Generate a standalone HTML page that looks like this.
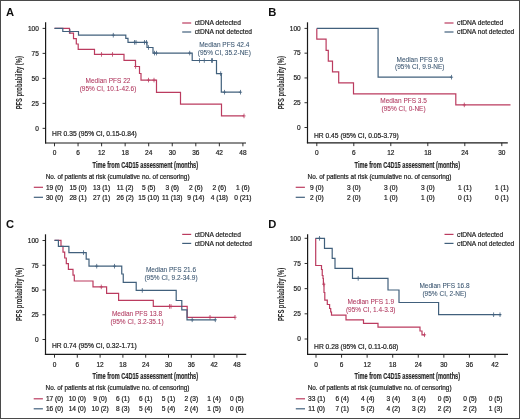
<!DOCTYPE html>
<html><head><meta charset="utf-8"><style>
html,body{margin:0;padding:0;background:#fff;}
body{width:520px;height:419px;overflow:hidden;}
svg{display:block;font-family:"Liberation Sans",sans-serif;will-change:transform;}
</style></head><body>
<svg width="520" height="419" viewBox="0 0 520 419">
<rect x="0" y="0" width="520" height="419" fill="#fff"/>
<text x="6.00" y="16.00" text-anchor="start" fill="#111" font-size="11.2" font-weight="bold" >A</text>
<line x1="45.60" y1="22.30" x2="45.60" y2="143.50" stroke="#1a1a1a" stroke-width="1.2"/>
<line x1="45.00" y1="143.00" x2="246.00" y2="143.00" stroke="#1a1a1a" stroke-width="1.2"/>
<line x1="42.60" y1="128.35" x2="45.60" y2="128.35" stroke="#1a1a1a" stroke-width="0.9"/>
<text x="38.80" y="130.65" text-anchor="end" fill="#222" font-size="6.5" font-weight="normal" stroke="#222" stroke-width="0.2" >0</text>
<line x1="42.60" y1="103.36" x2="45.60" y2="103.36" stroke="#1a1a1a" stroke-width="0.9"/>
<text x="38.80" y="105.66" text-anchor="end" fill="#222" font-size="6.5" font-weight="normal" stroke="#222" stroke-width="0.2" >25</text>
<line x1="42.60" y1="78.38" x2="45.60" y2="78.38" stroke="#1a1a1a" stroke-width="0.9"/>
<text x="38.80" y="80.67" text-anchor="end" fill="#222" font-size="6.5" font-weight="normal" stroke="#222" stroke-width="0.2" >50</text>
<line x1="42.60" y1="53.39" x2="45.60" y2="53.39" stroke="#1a1a1a" stroke-width="0.9"/>
<text x="38.80" y="55.69" text-anchor="end" fill="#222" font-size="6.5" font-weight="normal" stroke="#222" stroke-width="0.2" >75</text>
<line x1="42.60" y1="28.40" x2="45.60" y2="28.40" stroke="#1a1a1a" stroke-width="0.9"/>
<text x="38.80" y="30.70" text-anchor="end" fill="#222" font-size="6.5" font-weight="normal" stroke="#222" stroke-width="0.2" >100</text>
<line x1="54.50" y1="143.00" x2="54.50" y2="146.30" stroke="#1a1a1a" stroke-width="0.9"/>
<text x="54.50" y="155.30" text-anchor="middle" fill="#222" font-size="6.5" font-weight="normal" stroke="#222" stroke-width="0.2" >0</text>
<line x1="78.05" y1="143.00" x2="78.05" y2="146.30" stroke="#1a1a1a" stroke-width="0.9"/>
<text x="78.05" y="155.30" text-anchor="middle" fill="#222" font-size="6.5" font-weight="normal" stroke="#222" stroke-width="0.2" >6</text>
<line x1="101.60" y1="143.00" x2="101.60" y2="146.30" stroke="#1a1a1a" stroke-width="0.9"/>
<text x="101.60" y="155.30" text-anchor="middle" fill="#222" font-size="6.5" font-weight="normal" stroke="#222" stroke-width="0.2" >12</text>
<line x1="125.15" y1="143.00" x2="125.15" y2="146.30" stroke="#1a1a1a" stroke-width="0.9"/>
<text x="125.15" y="155.30" text-anchor="middle" fill="#222" font-size="6.5" font-weight="normal" stroke="#222" stroke-width="0.2" >18</text>
<line x1="148.70" y1="143.00" x2="148.70" y2="146.30" stroke="#1a1a1a" stroke-width="0.9"/>
<text x="148.70" y="155.30" text-anchor="middle" fill="#222" font-size="6.5" font-weight="normal" stroke="#222" stroke-width="0.2" >24</text>
<line x1="172.25" y1="143.00" x2="172.25" y2="146.30" stroke="#1a1a1a" stroke-width="0.9"/>
<text x="172.25" y="155.30" text-anchor="middle" fill="#222" font-size="6.5" font-weight="normal" stroke="#222" stroke-width="0.2" >30</text>
<line x1="195.80" y1="143.00" x2="195.80" y2="146.30" stroke="#1a1a1a" stroke-width="0.9"/>
<text x="195.80" y="155.30" text-anchor="middle" fill="#222" font-size="6.5" font-weight="normal" stroke="#222" stroke-width="0.2" >36</text>
<line x1="219.35" y1="143.00" x2="219.35" y2="146.30" stroke="#1a1a1a" stroke-width="0.9"/>
<text x="219.35" y="155.30" text-anchor="middle" fill="#222" font-size="6.5" font-weight="normal" stroke="#222" stroke-width="0.2" >42</text>
<line x1="242.90" y1="143.00" x2="242.90" y2="146.30" stroke="#1a1a1a" stroke-width="0.9"/>
<text x="242.90" y="155.30" text-anchor="middle" fill="#222" font-size="6.5" font-weight="normal" stroke="#222" stroke-width="0.2" >48</text>
<text transform="translate(21.90,82.75) rotate(-90) scale(0.645,1)" text-anchor="middle" fill="#2a2a2a" font-size="9" font-weight="bold" stroke="#2a2a2a" stroke-width="0.05">PFS probability (%)</text>
<text transform="translate(92.60,167.90) scale(0.625,1)" text-anchor="start" fill="#2a2a2a" font-size="9" font-weight="bold" stroke="#2a2a2a" stroke-width="0.2">Time from C4D15 assessment (months)</text>
<line x1="182.20" y1="23.00" x2="191.20" y2="23.00" stroke="#bb3b5f" stroke-width="1.2"/>
<line x1="182.20" y1="32.00" x2="191.20" y2="32.00" stroke="#41607c" stroke-width="1.2"/>
<text x="194.80" y="25.30" text-anchor="start" fill="#222" font-size="6.65" font-weight="normal" stroke="#222" stroke-width="0.2" >ctDNA detected</text>
<text x="194.80" y="34.30" text-anchor="start" fill="#222" font-size="6.65" font-weight="normal" stroke="#222" stroke-width="0.2" >ctDNA not detected</text>
<text x="52.10" y="135.80" text-anchor="start" fill="#222" font-size="6.7" font-weight="normal" stroke="#222" stroke-width="0.2" >HR 0.35 (95% CI, 0.15-0.84)</text>
<text x="108.00" y="83.00" text-anchor="middle" fill="#b0375e" font-size="6.5" font-weight="normal" stroke="#b0375e" stroke-width="0.06" >Median PFS 22</text>
<text x="108.00" y="90.90" text-anchor="middle" fill="#b0375e" font-size="6.5" font-weight="normal" stroke="#b0375e" stroke-width="0.06" >(95% CI, 10.1-42.6)</text>
<text x="224.30" y="47.00" text-anchor="middle" fill="#37536e" font-size="6.5" font-weight="normal" stroke="#37536e" stroke-width="0.06" >Median PFS 42.4</text>
<text x="224.30" y="54.90" text-anchor="middle" fill="#37536e" font-size="6.5" font-weight="normal" stroke="#37536e" stroke-width="0.06" >(95% CI, 35.2-NE)</text>
<path d="M54.50 28.40H69.50V33.20H73.50V38.70H76.30V44.00H78.20V49.30H94.50V54.40H124.00V60.30H135.50V66.50H139.50V73.50H141.00V80.10H156.50V92.30H180.50V104.20H221.50V115.90H244.00" fill="none" stroke="#bb3b5f" stroke-width="1.2" stroke-linejoin="miter" stroke-linecap="butt"/>
<path d="M101.50 52.10V56.70M99.90 54.40H103.10" stroke="#bb3b5f" stroke-width="0.8" fill="none"/>
<path d="M112.50 52.10V56.70M110.90 54.40H114.10" stroke="#bb3b5f" stroke-width="0.8" fill="none"/>
<path d="M135.60 64.20V68.80M134.00 66.50H137.20" stroke="#bb3b5f" stroke-width="0.8" fill="none"/>
<path d="M148.50 77.80V82.40M146.90 80.10H150.10" stroke="#bb3b5f" stroke-width="0.8" fill="none"/>
<path d="M154.00 77.80V82.40M152.40 80.10H155.60" stroke="#bb3b5f" stroke-width="0.8" fill="none"/>
<path d="M244.00 113.60V118.20M242.40 115.90H245.60" stroke="#bb3b5f" stroke-width="0.8" fill="none"/>
<path d="M54.50 28.40H62.80V31.50H78.50V35.20H125.80V38.30H128.00V42.30H147.00V47.50H153.00V53.10H192.20V60.50H216.50V73.60H221.30V92.20H240.50" fill="none" stroke="#41607c" stroke-width="1.2" stroke-linejoin="miter" stroke-linecap="butt"/>
<path d="M70.00 29.20V33.80M68.40 31.50H71.60" stroke="#41607c" stroke-width="0.8" fill="none"/>
<path d="M113.30 32.90V37.50M111.70 35.20H114.90" stroke="#41607c" stroke-width="0.8" fill="none"/>
<path d="M134.50 40.00V44.60M132.90 42.30H136.10" stroke="#41607c" stroke-width="0.8" fill="none"/>
<path d="M136.00 40.00V44.60M134.40 42.30H137.60" stroke="#41607c" stroke-width="0.8" fill="none"/>
<path d="M144.50 40.00V44.60M142.90 42.30H146.10" stroke="#41607c" stroke-width="0.8" fill="none"/>
<path d="M146.50 40.00V44.60M144.90 42.30H148.10" stroke="#41607c" stroke-width="0.8" fill="none"/>
<path d="M148.50 45.20V49.80M146.90 47.50H150.10" stroke="#41607c" stroke-width="0.8" fill="none"/>
<path d="M154.50 50.80V55.40M152.90 53.10H156.10" stroke="#41607c" stroke-width="0.8" fill="none"/>
<path d="M156.50 50.80V55.40M154.90 53.10H158.10" stroke="#41607c" stroke-width="0.8" fill="none"/>
<path d="M189.70 50.80V55.40M188.10 53.10H191.30" stroke="#41607c" stroke-width="0.8" fill="none"/>
<path d="M199.50 58.20V62.80M197.90 60.50H201.10" stroke="#41607c" stroke-width="0.8" fill="none"/>
<path d="M204.30 58.20V62.80M202.70 60.50H205.90" stroke="#41607c" stroke-width="0.8" fill="none"/>
<path d="M211.50 58.20V62.80M209.90 60.50H213.10" stroke="#41607c" stroke-width="0.8" fill="none"/>
<path d="M212.50 58.20V62.80M210.90 60.50H214.10" stroke="#41607c" stroke-width="0.8" fill="none"/>
<path d="M220.70 71.30V75.90M219.10 73.60H222.30" stroke="#41607c" stroke-width="0.8" fill="none"/>
<path d="M224.50 89.90V94.50M222.90 92.20H226.10" stroke="#41607c" stroke-width="0.8" fill="none"/>
<path d="M240.50 89.90V94.50M238.90 92.20H242.10" stroke="#41607c" stroke-width="0.8" fill="none"/>
<text x="45.70" y="178.50" text-anchor="start" fill="#222" font-size="6.4" font-weight="normal" stroke="#222" stroke-width="0.2" >No. of patients at risk (cumulative no. of censoring)</text>
<line x1="33.80" y1="187.30" x2="43.00" y2="187.30" stroke="#bb3b5f" stroke-width="1.2"/>
<text x="54.50" y="189.90" text-anchor="middle" fill="#222" font-size="6.6" font-weight="normal" stroke="#222" stroke-width="0.2" >19 (0)</text>
<text x="78.05" y="189.90" text-anchor="middle" fill="#222" font-size="6.6" font-weight="normal" stroke="#222" stroke-width="0.2" >15 (0)</text>
<text x="101.60" y="189.90" text-anchor="middle" fill="#222" font-size="6.6" font-weight="normal" stroke="#222" stroke-width="0.2" >13 (1)</text>
<text x="125.15" y="189.90" text-anchor="middle" fill="#222" font-size="6.6" font-weight="normal" stroke="#222" stroke-width="0.2" >11 (2)</text>
<text x="148.70" y="189.90" text-anchor="middle" fill="#222" font-size="6.6" font-weight="normal" stroke="#222" stroke-width="0.2" >5 (5)</text>
<text x="172.25" y="189.90" text-anchor="middle" fill="#222" font-size="6.6" font-weight="normal" stroke="#222" stroke-width="0.2" >3 (6)</text>
<text x="195.80" y="189.90" text-anchor="middle" fill="#222" font-size="6.6" font-weight="normal" stroke="#222" stroke-width="0.2" >2 (6)</text>
<text x="219.35" y="189.90" text-anchor="middle" fill="#222" font-size="6.6" font-weight="normal" stroke="#222" stroke-width="0.2" >2 (6)</text>
<text x="242.90" y="189.90" text-anchor="middle" fill="#222" font-size="6.6" font-weight="normal" stroke="#222" stroke-width="0.2" >1 (6)</text>
<line x1="33.80" y1="197.30" x2="43.00" y2="197.30" stroke="#41607c" stroke-width="1.2"/>
<text x="54.50" y="199.90" text-anchor="middle" fill="#222" font-size="6.6" font-weight="normal" stroke="#222" stroke-width="0.2" >30 (0)</text>
<text x="78.05" y="199.90" text-anchor="middle" fill="#222" font-size="6.6" font-weight="normal" stroke="#222" stroke-width="0.2" >28 (1)</text>
<text x="101.60" y="199.90" text-anchor="middle" fill="#222" font-size="6.6" font-weight="normal" stroke="#222" stroke-width="0.2" >27 (1)</text>
<text x="125.15" y="199.90" text-anchor="middle" fill="#222" font-size="6.6" font-weight="normal" stroke="#222" stroke-width="0.2" >26 (2)</text>
<text x="148.70" y="199.90" text-anchor="middle" fill="#222" font-size="6.6" font-weight="normal" stroke="#222" stroke-width="0.2" >15 (10)</text>
<text x="172.25" y="199.90" text-anchor="middle" fill="#222" font-size="6.6" font-weight="normal" stroke="#222" stroke-width="0.2" >11 (13)</text>
<text x="195.80" y="199.90" text-anchor="middle" fill="#222" font-size="6.6" font-weight="normal" stroke="#222" stroke-width="0.2" >9 (14)</text>
<text x="219.35" y="199.90" text-anchor="middle" fill="#222" font-size="6.6" font-weight="normal" stroke="#222" stroke-width="0.2" >4 (18)</text>
<text x="242.90" y="199.90" text-anchor="middle" fill="#222" font-size="6.6" font-weight="normal" stroke="#222" stroke-width="0.2" >0 (21)</text>
<text x="268.30" y="16.00" text-anchor="start" fill="#111" font-size="11.2" font-weight="bold" >B</text>
<line x1="307.50" y1="22.30" x2="307.50" y2="143.30" stroke="#1a1a1a" stroke-width="1.2"/>
<line x1="306.90" y1="142.80" x2="507.80" y2="142.80" stroke="#1a1a1a" stroke-width="1.2"/>
<line x1="304.50" y1="127.50" x2="307.50" y2="127.50" stroke="#1a1a1a" stroke-width="0.9"/>
<text x="300.70" y="129.80" text-anchor="end" fill="#222" font-size="6.5" font-weight="normal" stroke="#222" stroke-width="0.2" >0</text>
<line x1="304.50" y1="102.72" x2="307.50" y2="102.72" stroke="#1a1a1a" stroke-width="0.9"/>
<text x="300.70" y="105.02" text-anchor="end" fill="#222" font-size="6.5" font-weight="normal" stroke="#222" stroke-width="0.2" >25</text>
<line x1="304.50" y1="77.95" x2="307.50" y2="77.95" stroke="#1a1a1a" stroke-width="0.9"/>
<text x="300.70" y="80.25" text-anchor="end" fill="#222" font-size="6.5" font-weight="normal" stroke="#222" stroke-width="0.2" >50</text>
<line x1="304.50" y1="53.17" x2="307.50" y2="53.17" stroke="#1a1a1a" stroke-width="0.9"/>
<text x="300.70" y="55.47" text-anchor="end" fill="#222" font-size="6.5" font-weight="normal" stroke="#222" stroke-width="0.2" >75</text>
<line x1="304.50" y1="28.40" x2="307.50" y2="28.40" stroke="#1a1a1a" stroke-width="0.9"/>
<text x="300.70" y="30.70" text-anchor="end" fill="#222" font-size="6.5" font-weight="normal" stroke="#222" stroke-width="0.2" >100</text>
<line x1="316.80" y1="142.80" x2="316.80" y2="146.10" stroke="#1a1a1a" stroke-width="0.9"/>
<text x="316.80" y="155.40" text-anchor="middle" fill="#222" font-size="6.5" font-weight="normal" stroke="#222" stroke-width="0.2" >0</text>
<line x1="353.80" y1="142.80" x2="353.80" y2="146.10" stroke="#1a1a1a" stroke-width="0.9"/>
<text x="353.80" y="155.40" text-anchor="middle" fill="#222" font-size="6.5" font-weight="normal" stroke="#222" stroke-width="0.2" >6</text>
<line x1="390.80" y1="142.80" x2="390.80" y2="146.10" stroke="#1a1a1a" stroke-width="0.9"/>
<text x="390.80" y="155.40" text-anchor="middle" fill="#222" font-size="6.5" font-weight="normal" stroke="#222" stroke-width="0.2" >12</text>
<line x1="427.80" y1="142.80" x2="427.80" y2="146.10" stroke="#1a1a1a" stroke-width="0.9"/>
<text x="427.80" y="155.40" text-anchor="middle" fill="#222" font-size="6.5" font-weight="normal" stroke="#222" stroke-width="0.2" >18</text>
<line x1="464.80" y1="142.80" x2="464.80" y2="146.10" stroke="#1a1a1a" stroke-width="0.9"/>
<text x="464.80" y="155.40" text-anchor="middle" fill="#222" font-size="6.5" font-weight="normal" stroke="#222" stroke-width="0.2" >24</text>
<line x1="501.80" y1="142.80" x2="501.80" y2="146.10" stroke="#1a1a1a" stroke-width="0.9"/>
<text x="501.80" y="155.40" text-anchor="middle" fill="#222" font-size="6.5" font-weight="normal" stroke="#222" stroke-width="0.2" >30</text>
<text transform="translate(283.90,82.75) rotate(-90) scale(0.645,1)" text-anchor="middle" fill="#2a2a2a" font-size="9" font-weight="bold" stroke="#2a2a2a" stroke-width="0.05">PFS probability (%)</text>
<text transform="translate(354.60,168.00) scale(0.625,1)" text-anchor="start" fill="#2a2a2a" font-size="9" font-weight="bold" stroke="#2a2a2a" stroke-width="0.2">Time from C4D15 assessment (months)</text>
<line x1="444.50" y1="23.00" x2="453.50" y2="23.00" stroke="#bb3b5f" stroke-width="1.2"/>
<line x1="444.50" y1="32.00" x2="453.50" y2="32.00" stroke="#41607c" stroke-width="1.2"/>
<text x="457.10" y="25.30" text-anchor="start" fill="#222" font-size="6.65" font-weight="normal" stroke="#222" stroke-width="0.2" >ctDNA detected</text>
<text x="457.10" y="34.30" text-anchor="start" fill="#222" font-size="6.65" font-weight="normal" stroke="#222" stroke-width="0.2" >ctDNA not detected</text>
<text x="314.00" y="137.50" text-anchor="start" fill="#222" font-size="6.7" font-weight="normal" stroke="#222" stroke-width="0.2" >HR 0.45 (95% CI, 0.05-3.79)</text>
<text x="403.60" y="103.00" text-anchor="middle" fill="#b0375e" font-size="6.5" font-weight="normal" stroke="#b0375e" stroke-width="0.06" >Median PFS 3.5</text>
<text x="403.60" y="110.90" text-anchor="middle" fill="#b0375e" font-size="6.5" font-weight="normal" stroke="#b0375e" stroke-width="0.06" >(95% CI, 0-NE)</text>
<text x="419.80" y="61.50" text-anchor="middle" fill="#37536e" font-size="6.5" font-weight="normal" stroke="#37536e" stroke-width="0.06" >Median PFS 9.9</text>
<text x="419.80" y="69.40" text-anchor="middle" fill="#37536e" font-size="6.5" font-weight="normal" stroke="#37536e" stroke-width="0.06" >(95% CI, 9.9-NE)</text>
<path d="M316.80 28.40H316.80V39.20H326.10V50.30H328.30V61.20H332.50V71.80H338.70V82.80H353.50V93.90H455.80V104.90H510.50" fill="none" stroke="#bb3b5f" stroke-width="1.2" stroke-linejoin="miter" stroke-linecap="butt"/>
<path d="M464.30 102.60V107.20M462.70 104.90H465.90" stroke="#bb3b5f" stroke-width="0.8" fill="none"/>
<path d="M316.80 28.40H378.10V77.20H451.50" fill="none" stroke="#41607c" stroke-width="1.2" stroke-linejoin="miter" stroke-linecap="butt"/>
<path d="M451.50 74.90V79.50M449.90 77.20H453.10" stroke="#41607c" stroke-width="0.8" fill="none"/>
<text x="307.60" y="178.50" text-anchor="start" fill="#222" font-size="6.4" font-weight="normal" stroke="#222" stroke-width="0.2" >No. of patients at risk (cumulative no. of censoring)</text>
<line x1="295.70" y1="187.30" x2="304.90" y2="187.30" stroke="#bb3b5f" stroke-width="1.2"/>
<text x="316.80" y="189.90" text-anchor="middle" fill="#222" font-size="6.6" font-weight="normal" stroke="#222" stroke-width="0.2" >9 (0)</text>
<text x="353.80" y="189.90" text-anchor="middle" fill="#222" font-size="6.6" font-weight="normal" stroke="#222" stroke-width="0.2" >3 (0)</text>
<text x="390.80" y="189.90" text-anchor="middle" fill="#222" font-size="6.6" font-weight="normal" stroke="#222" stroke-width="0.2" >3 (0)</text>
<text x="427.80" y="189.90" text-anchor="middle" fill="#222" font-size="6.6" font-weight="normal" stroke="#222" stroke-width="0.2" >3 (0)</text>
<text x="464.80" y="189.90" text-anchor="middle" fill="#222" font-size="6.6" font-weight="normal" stroke="#222" stroke-width="0.2" >1 (1)</text>
<text x="501.80" y="189.90" text-anchor="middle" fill="#222" font-size="6.6" font-weight="normal" stroke="#222" stroke-width="0.2" >1 (1)</text>
<line x1="295.70" y1="197.30" x2="304.90" y2="197.30" stroke="#41607c" stroke-width="1.2"/>
<text x="316.80" y="199.90" text-anchor="middle" fill="#222" font-size="6.6" font-weight="normal" stroke="#222" stroke-width="0.2" >2 (0)</text>
<text x="353.80" y="199.90" text-anchor="middle" fill="#222" font-size="6.6" font-weight="normal" stroke="#222" stroke-width="0.2" >2 (0)</text>
<text x="390.80" y="199.90" text-anchor="middle" fill="#222" font-size="6.6" font-weight="normal" stroke="#222" stroke-width="0.2" >1 (0)</text>
<text x="427.80" y="199.90" text-anchor="middle" fill="#222" font-size="6.6" font-weight="normal" stroke="#222" stroke-width="0.2" >1 (0)</text>
<text x="464.80" y="199.90" text-anchor="middle" fill="#222" font-size="6.6" font-weight="normal" stroke="#222" stroke-width="0.2" >0 (1)</text>
<text x="501.80" y="199.90" text-anchor="middle" fill="#222" font-size="6.6" font-weight="normal" stroke="#222" stroke-width="0.2" >0 (1)</text>
<text x="6.00" y="227.50" text-anchor="start" fill="#111" font-size="11.2" font-weight="bold" >C</text>
<line x1="45.50" y1="234.30" x2="45.50" y2="354.90" stroke="#1a1a1a" stroke-width="1.2"/>
<line x1="44.90" y1="354.40" x2="246.20" y2="354.40" stroke="#1a1a1a" stroke-width="1.2"/>
<line x1="42.50" y1="339.50" x2="45.50" y2="339.50" stroke="#1a1a1a" stroke-width="0.9"/>
<text x="38.70" y="341.80" text-anchor="end" fill="#222" font-size="6.5" font-weight="normal" stroke="#222" stroke-width="0.2" >0</text>
<line x1="42.50" y1="314.75" x2="45.50" y2="314.75" stroke="#1a1a1a" stroke-width="0.9"/>
<text x="38.70" y="317.05" text-anchor="end" fill="#222" font-size="6.5" font-weight="normal" stroke="#222" stroke-width="0.2" >25</text>
<line x1="42.50" y1="290.00" x2="45.50" y2="290.00" stroke="#1a1a1a" stroke-width="0.9"/>
<text x="38.70" y="292.30" text-anchor="end" fill="#222" font-size="6.5" font-weight="normal" stroke="#222" stroke-width="0.2" >50</text>
<line x1="42.50" y1="265.25" x2="45.50" y2="265.25" stroke="#1a1a1a" stroke-width="0.9"/>
<text x="38.70" y="267.55" text-anchor="end" fill="#222" font-size="6.5" font-weight="normal" stroke="#222" stroke-width="0.2" >75</text>
<line x1="42.50" y1="240.50" x2="45.50" y2="240.50" stroke="#1a1a1a" stroke-width="0.9"/>
<text x="38.70" y="242.80" text-anchor="end" fill="#222" font-size="6.5" font-weight="normal" stroke="#222" stroke-width="0.2" >100</text>
<line x1="54.50" y1="354.40" x2="54.50" y2="357.70" stroke="#1a1a1a" stroke-width="0.9"/>
<text x="54.50" y="366.60" text-anchor="middle" fill="#222" font-size="6.5" font-weight="normal" stroke="#222" stroke-width="0.2" >0</text>
<line x1="77.30" y1="354.40" x2="77.30" y2="357.70" stroke="#1a1a1a" stroke-width="0.9"/>
<text x="77.30" y="366.60" text-anchor="middle" fill="#222" font-size="6.5" font-weight="normal" stroke="#222" stroke-width="0.2" >6</text>
<line x1="100.10" y1="354.40" x2="100.10" y2="357.70" stroke="#1a1a1a" stroke-width="0.9"/>
<text x="100.10" y="366.60" text-anchor="middle" fill="#222" font-size="6.5" font-weight="normal" stroke="#222" stroke-width="0.2" >12</text>
<line x1="122.90" y1="354.40" x2="122.90" y2="357.70" stroke="#1a1a1a" stroke-width="0.9"/>
<text x="122.90" y="366.60" text-anchor="middle" fill="#222" font-size="6.5" font-weight="normal" stroke="#222" stroke-width="0.2" >18</text>
<line x1="145.70" y1="354.40" x2="145.70" y2="357.70" stroke="#1a1a1a" stroke-width="0.9"/>
<text x="145.70" y="366.60" text-anchor="middle" fill="#222" font-size="6.5" font-weight="normal" stroke="#222" stroke-width="0.2" >24</text>
<line x1="168.50" y1="354.40" x2="168.50" y2="357.70" stroke="#1a1a1a" stroke-width="0.9"/>
<text x="168.50" y="366.60" text-anchor="middle" fill="#222" font-size="6.5" font-weight="normal" stroke="#222" stroke-width="0.2" >30</text>
<line x1="191.30" y1="354.40" x2="191.30" y2="357.70" stroke="#1a1a1a" stroke-width="0.9"/>
<text x="191.30" y="366.60" text-anchor="middle" fill="#222" font-size="6.5" font-weight="normal" stroke="#222" stroke-width="0.2" >36</text>
<line x1="214.10" y1="354.40" x2="214.10" y2="357.70" stroke="#1a1a1a" stroke-width="0.9"/>
<text x="214.10" y="366.60" text-anchor="middle" fill="#222" font-size="6.5" font-weight="normal" stroke="#222" stroke-width="0.2" >42</text>
<line x1="236.90" y1="354.40" x2="236.90" y2="357.70" stroke="#1a1a1a" stroke-width="0.9"/>
<text x="236.90" y="366.60" text-anchor="middle" fill="#222" font-size="6.5" font-weight="normal" stroke="#222" stroke-width="0.2" >48</text>
<text transform="translate(21.90,294.45) rotate(-90) scale(0.645,1)" text-anchor="middle" fill="#2a2a2a" font-size="9" font-weight="bold" stroke="#2a2a2a" stroke-width="0.05">PFS probability (%)</text>
<text transform="translate(92.60,379.00) scale(0.625,1)" text-anchor="start" fill="#2a2a2a" font-size="9" font-weight="bold" stroke="#2a2a2a" stroke-width="0.2">Time from C4D15 assessment (months)</text>
<line x1="182.20" y1="234.40" x2="191.20" y2="234.40" stroke="#bb3b5f" stroke-width="1.2"/>
<line x1="182.20" y1="243.40" x2="191.20" y2="243.40" stroke="#41607c" stroke-width="1.2"/>
<text x="194.80" y="236.70" text-anchor="start" fill="#222" font-size="6.65" font-weight="normal" stroke="#222" stroke-width="0.2" >ctDNA detected</text>
<text x="194.80" y="245.70" text-anchor="start" fill="#222" font-size="6.65" font-weight="normal" stroke="#222" stroke-width="0.2" >ctDNA not detected</text>
<text x="52.00" y="347.50" text-anchor="start" fill="#222" font-size="6.7" font-weight="normal" stroke="#222" stroke-width="0.2" >HR 0.74 (95% CI, 0.32-1.71)</text>
<text x="137.00" y="316.10" text-anchor="middle" fill="#b0375e" font-size="6.5" font-weight="normal" stroke="#b0375e" stroke-width="0.06" >Median PFS 13.8</text>
<text x="137.00" y="324.00" text-anchor="middle" fill="#b0375e" font-size="6.5" font-weight="normal" stroke="#b0375e" stroke-width="0.06" >(95% CI, 3.2-35.1)</text>
<text x="171.00" y="271.70" text-anchor="middle" fill="#37536e" font-size="6.5" font-weight="normal" stroke="#37536e" stroke-width="0.06" >Median PFS 21.6</text>
<text x="171.00" y="279.60" text-anchor="middle" fill="#37536e" font-size="6.5" font-weight="normal" stroke="#37536e" stroke-width="0.06" >(95% CI, 9.2-34.9)</text>
<path d="M54.50 240.40H61.00V246.40H63.00V252.10H64.70V258.00H66.30V263.60H68.40V269.30H73.00V275.10H74.30V281.00H93.00V286.90H106.60V293.30H118.60V300.30H153.30V306.40H187.20V317.30H235.00" fill="none" stroke="#bb3b5f" stroke-width="1.2" stroke-linejoin="miter" stroke-linecap="butt"/>
<path d="M101.30 284.60V289.20M99.70 286.90H102.90" stroke="#bb3b5f" stroke-width="0.8" fill="none"/>
<path d="M169.50 304.10V308.70M167.90 306.40H171.10" stroke="#bb3b5f" stroke-width="0.8" fill="none"/>
<path d="M171.00 304.10V308.70M169.40 306.40H172.60" stroke="#bb3b5f" stroke-width="0.8" fill="none"/>
<path d="M210.00 315.00V319.60M208.40 317.30H211.60" stroke="#bb3b5f" stroke-width="0.8" fill="none"/>
<path d="M235.00 315.00V319.60M233.40 317.30H236.60" stroke="#bb3b5f" stroke-width="0.8" fill="none"/>
<path d="M54.50 240.40H58.40V246.40H68.90V252.60H86.20V259.20H89.00V266.20H121.75V274.00H123.25V282.40H136.20V290.40H176.20V300.50H181.80V309.80H187.00V319.80H215.50" fill="none" stroke="#41607c" stroke-width="1.2" stroke-linejoin="miter" stroke-linecap="butt"/>
<path d="M83.50 250.30V254.90M81.90 252.60H85.10" stroke="#41607c" stroke-width="0.8" fill="none"/>
<path d="M96.70 263.90V268.50M95.10 266.20H98.30" stroke="#41607c" stroke-width="0.8" fill="none"/>
<path d="M114.50 263.90V268.50M112.90 266.20H116.10" stroke="#41607c" stroke-width="0.8" fill="none"/>
<path d="M142.30 288.10V292.70M140.70 290.40H143.90" stroke="#41607c" stroke-width="0.8" fill="none"/>
<path d="M192.20 317.50V322.10M190.60 319.80H193.80" stroke="#41607c" stroke-width="0.8" fill="none"/>
<path d="M215.30 317.50V322.10M213.70 319.80H216.90" stroke="#41607c" stroke-width="0.8" fill="none"/>
<text x="45.60" y="390.00" text-anchor="start" fill="#222" font-size="6.4" font-weight="normal" stroke="#222" stroke-width="0.2" >No. of patients at risk (cumulative no. of censoring)</text>
<line x1="33.70" y1="398.80" x2="42.90" y2="398.80" stroke="#bb3b5f" stroke-width="1.2"/>
<text x="54.50" y="401.40" text-anchor="middle" fill="#222" font-size="6.6" font-weight="normal" stroke="#222" stroke-width="0.2" >17 (0)</text>
<text x="77.30" y="401.40" text-anchor="middle" fill="#222" font-size="6.6" font-weight="normal" stroke="#222" stroke-width="0.2" >10 (0)</text>
<text x="100.10" y="401.40" text-anchor="middle" fill="#222" font-size="6.6" font-weight="normal" stroke="#222" stroke-width="0.2" >9 (0)</text>
<text x="122.90" y="401.40" text-anchor="middle" fill="#222" font-size="6.6" font-weight="normal" stroke="#222" stroke-width="0.2" >6 (1)</text>
<text x="145.70" y="401.40" text-anchor="middle" fill="#222" font-size="6.6" font-weight="normal" stroke="#222" stroke-width="0.2" >6 (1)</text>
<text x="168.50" y="401.40" text-anchor="middle" fill="#222" font-size="6.6" font-weight="normal" stroke="#222" stroke-width="0.2" >5 (1)</text>
<text x="191.30" y="401.40" text-anchor="middle" fill="#222" font-size="6.6" font-weight="normal" stroke="#222" stroke-width="0.2" >2 (3)</text>
<text x="214.10" y="401.40" text-anchor="middle" fill="#222" font-size="6.6" font-weight="normal" stroke="#222" stroke-width="0.2" >1 (4)</text>
<text x="236.90" y="401.40" text-anchor="middle" fill="#222" font-size="6.6" font-weight="normal" stroke="#222" stroke-width="0.2" >0 (5)</text>
<line x1="33.70" y1="408.80" x2="42.90" y2="408.80" stroke="#41607c" stroke-width="1.2"/>
<text x="54.50" y="411.40" text-anchor="middle" fill="#222" font-size="6.6" font-weight="normal" stroke="#222" stroke-width="0.2" >16 (0)</text>
<text x="77.30" y="411.40" text-anchor="middle" fill="#222" font-size="6.6" font-weight="normal" stroke="#222" stroke-width="0.2" >14 (0)</text>
<text x="100.10" y="411.40" text-anchor="middle" fill="#222" font-size="6.6" font-weight="normal" stroke="#222" stroke-width="0.2" >10 (2)</text>
<text x="122.90" y="411.40" text-anchor="middle" fill="#222" font-size="6.6" font-weight="normal" stroke="#222" stroke-width="0.2" >8 (3)</text>
<text x="145.70" y="411.40" text-anchor="middle" fill="#222" font-size="6.6" font-weight="normal" stroke="#222" stroke-width="0.2" >5 (4)</text>
<text x="168.50" y="411.40" text-anchor="middle" fill="#222" font-size="6.6" font-weight="normal" stroke="#222" stroke-width="0.2" >5 (4)</text>
<text x="191.30" y="411.40" text-anchor="middle" fill="#222" font-size="6.6" font-weight="normal" stroke="#222" stroke-width="0.2" >2 (4)</text>
<text x="214.10" y="411.40" text-anchor="middle" fill="#222" font-size="6.6" font-weight="normal" stroke="#222" stroke-width="0.2" >1 (5)</text>
<text x="236.90" y="411.40" text-anchor="middle" fill="#222" font-size="6.6" font-weight="normal" stroke="#222" stroke-width="0.2" >0 (6)</text>
<text x="268.30" y="227.50" text-anchor="start" fill="#111" font-size="11.2" font-weight="bold" >D</text>
<line x1="307.60" y1="234.30" x2="307.60" y2="354.90" stroke="#1a1a1a" stroke-width="1.2"/>
<line x1="307.00" y1="354.40" x2="508.00" y2="354.40" stroke="#1a1a1a" stroke-width="1.2"/>
<line x1="304.60" y1="339.00" x2="307.60" y2="339.00" stroke="#1a1a1a" stroke-width="0.9"/>
<text x="300.80" y="341.30" text-anchor="end" fill="#222" font-size="6.5" font-weight="normal" stroke="#222" stroke-width="0.2" >0</text>
<line x1="304.60" y1="313.82" x2="307.60" y2="313.82" stroke="#1a1a1a" stroke-width="0.9"/>
<text x="300.80" y="316.12" text-anchor="end" fill="#222" font-size="6.5" font-weight="normal" stroke="#222" stroke-width="0.2" >25</text>
<line x1="304.60" y1="288.65" x2="307.60" y2="288.65" stroke="#1a1a1a" stroke-width="0.9"/>
<text x="300.80" y="290.95" text-anchor="end" fill="#222" font-size="6.5" font-weight="normal" stroke="#222" stroke-width="0.2" >50</text>
<line x1="304.60" y1="263.48" x2="307.60" y2="263.48" stroke="#1a1a1a" stroke-width="0.9"/>
<text x="300.80" y="265.78" text-anchor="end" fill="#222" font-size="6.5" font-weight="normal" stroke="#222" stroke-width="0.2" >75</text>
<line x1="304.60" y1="238.30" x2="307.60" y2="238.30" stroke="#1a1a1a" stroke-width="0.9"/>
<text x="300.80" y="240.60" text-anchor="end" fill="#222" font-size="6.5" font-weight="normal" stroke="#222" stroke-width="0.2" >100</text>
<line x1="316.00" y1="354.40" x2="316.00" y2="357.70" stroke="#1a1a1a" stroke-width="0.9"/>
<text x="316.00" y="366.60" text-anchor="middle" fill="#222" font-size="6.5" font-weight="normal" stroke="#222" stroke-width="0.2" >0</text>
<line x1="341.57" y1="354.40" x2="341.57" y2="357.70" stroke="#1a1a1a" stroke-width="0.9"/>
<text x="341.57" y="366.60" text-anchor="middle" fill="#222" font-size="6.5" font-weight="normal" stroke="#222" stroke-width="0.2" >6</text>
<line x1="367.14" y1="354.40" x2="367.14" y2="357.70" stroke="#1a1a1a" stroke-width="0.9"/>
<text x="367.14" y="366.60" text-anchor="middle" fill="#222" font-size="6.5" font-weight="normal" stroke="#222" stroke-width="0.2" >12</text>
<line x1="392.71" y1="354.40" x2="392.71" y2="357.70" stroke="#1a1a1a" stroke-width="0.9"/>
<text x="392.71" y="366.60" text-anchor="middle" fill="#222" font-size="6.5" font-weight="normal" stroke="#222" stroke-width="0.2" >18</text>
<line x1="418.28" y1="354.40" x2="418.28" y2="357.70" stroke="#1a1a1a" stroke-width="0.9"/>
<text x="418.28" y="366.60" text-anchor="middle" fill="#222" font-size="6.5" font-weight="normal" stroke="#222" stroke-width="0.2" >24</text>
<line x1="443.85" y1="354.40" x2="443.85" y2="357.70" stroke="#1a1a1a" stroke-width="0.9"/>
<text x="443.85" y="366.60" text-anchor="middle" fill="#222" font-size="6.5" font-weight="normal" stroke="#222" stroke-width="0.2" >30</text>
<line x1="469.42" y1="354.40" x2="469.42" y2="357.70" stroke="#1a1a1a" stroke-width="0.9"/>
<text x="469.42" y="366.60" text-anchor="middle" fill="#222" font-size="6.5" font-weight="normal" stroke="#222" stroke-width="0.2" >36</text>
<line x1="494.99" y1="354.40" x2="494.99" y2="357.70" stroke="#1a1a1a" stroke-width="0.9"/>
<text x="494.99" y="366.60" text-anchor="middle" fill="#222" font-size="6.5" font-weight="normal" stroke="#222" stroke-width="0.2" >42</text>
<text transform="translate(283.90,294.45) rotate(-90) scale(0.645,1)" text-anchor="middle" fill="#2a2a2a" font-size="9" font-weight="bold" stroke="#2a2a2a" stroke-width="0.05">PFS probability (%)</text>
<text transform="translate(354.60,379.10) scale(0.625,1)" text-anchor="start" fill="#2a2a2a" font-size="9" font-weight="bold" stroke="#2a2a2a" stroke-width="0.2">Time from C4D15 assessment (months)</text>
<line x1="444.50" y1="234.40" x2="453.50" y2="234.40" stroke="#bb3b5f" stroke-width="1.2"/>
<line x1="444.50" y1="243.40" x2="453.50" y2="243.40" stroke="#41607c" stroke-width="1.2"/>
<text x="457.10" y="236.70" text-anchor="start" fill="#222" font-size="6.65" font-weight="normal" stroke="#222" stroke-width="0.2" >ctDNA detected</text>
<text x="457.10" y="245.70" text-anchor="start" fill="#222" font-size="6.65" font-weight="normal" stroke="#222" stroke-width="0.2" >ctDNA not detected</text>
<text x="314.10" y="349.30" text-anchor="start" fill="#222" font-size="6.7" font-weight="normal" stroke="#222" stroke-width="0.2" >HR 0.28 (95% CI, 0.11-0.68)</text>
<text x="370.70" y="303.70" text-anchor="middle" fill="#b0375e" font-size="6.5" font-weight="normal" stroke="#b0375e" stroke-width="0.06" >Median PFS 1.9</text>
<text x="370.70" y="311.60" text-anchor="middle" fill="#b0375e" font-size="6.5" font-weight="normal" stroke="#b0375e" stroke-width="0.06" >(95% CI, 1.4-3.3)</text>
<text x="444.50" y="287.60" text-anchor="middle" fill="#37536e" font-size="6.5" font-weight="normal" stroke="#37536e" stroke-width="0.06" >Median PFS 16.8</text>
<text x="444.50" y="295.50" text-anchor="middle" fill="#37536e" font-size="6.5" font-weight="normal" stroke="#37536e" stroke-width="0.06" >(95% CI, 2-NE)</text>
<path d="M315.70 238.30H315.70V265.50H321.50V269.50H322.25V275.50H323.00V278.50H323.40V284.20H324.00V292.50H324.80V300.20H327.30V304.50H329.60V308.50H330.70V312.00H331.50V315.20H346.00V319.80H363.50V323.40H378.00V327.10H420.00V331.00H422.00V334.80H425.00" fill="none" stroke="#bb3b5f" stroke-width="1.2" stroke-linejoin="miter" stroke-linecap="butt"/>
<path d="M323.80 281.90V286.50M322.20 284.20H325.40" stroke="#bb3b5f" stroke-width="0.8" fill="none"/>
<path d="M424.50 332.50V337.10M422.90 334.80H426.10" stroke="#bb3b5f" stroke-width="0.8" fill="none"/>
<path d="M315.50 238.30H324.50V248.30H332.20V258.30H335.00V268.40H352.50V278.40H388.00V290.00H399.00V302.50H438.60V314.70H501.00" fill="none" stroke="#41607c" stroke-width="1.2" stroke-linejoin="miter" stroke-linecap="butt"/>
<path d="M319.50 236.00V240.60M317.90 238.30H321.10" stroke="#41607c" stroke-width="0.8" fill="none"/>
<path d="M358.20 276.10V280.70M356.60 278.40H359.80" stroke="#41607c" stroke-width="0.8" fill="none"/>
<path d="M493.60 312.40V317.00M492.00 314.70H495.20" stroke="#41607c" stroke-width="0.8" fill="none"/>
<path d="M500.00 312.40V317.00M498.40 314.70H501.60" stroke="#41607c" stroke-width="0.8" fill="none"/>
<text x="307.70" y="390.00" text-anchor="start" fill="#222" font-size="6.4" font-weight="normal" stroke="#222" stroke-width="0.2" >No. of patients at risk (cumulative no. of censoring)</text>
<line x1="295.80" y1="398.80" x2="305.00" y2="398.80" stroke="#bb3b5f" stroke-width="1.2"/>
<text x="316.60" y="401.40" text-anchor="middle" fill="#222" font-size="6.6" font-weight="normal" stroke="#222" stroke-width="0.2" >33 (1)</text>
<text x="342.17" y="401.40" text-anchor="middle" fill="#222" font-size="6.6" font-weight="normal" stroke="#222" stroke-width="0.2" >6 (4)</text>
<text x="367.74" y="401.40" text-anchor="middle" fill="#222" font-size="6.6" font-weight="normal" stroke="#222" stroke-width="0.2" >4 (4)</text>
<text x="393.31" y="401.40" text-anchor="middle" fill="#222" font-size="6.6" font-weight="normal" stroke="#222" stroke-width="0.2" >3 (4)</text>
<text x="418.88" y="401.40" text-anchor="middle" fill="#222" font-size="6.6" font-weight="normal" stroke="#222" stroke-width="0.2" >3 (4)</text>
<text x="444.45" y="401.40" text-anchor="middle" fill="#222" font-size="6.6" font-weight="normal" stroke="#222" stroke-width="0.2" >0 (5)</text>
<text x="470.02" y="401.40" text-anchor="middle" fill="#222" font-size="6.6" font-weight="normal" stroke="#222" stroke-width="0.2" >0 (5)</text>
<text x="495.59" y="401.40" text-anchor="middle" fill="#222" font-size="6.6" font-weight="normal" stroke="#222" stroke-width="0.2" >0 (5)</text>
<line x1="295.80" y1="408.80" x2="305.00" y2="408.80" stroke="#41607c" stroke-width="1.2"/>
<text x="316.60" y="411.40" text-anchor="middle" fill="#222" font-size="6.6" font-weight="normal" stroke="#222" stroke-width="0.2" >11 (0)</text>
<text x="342.17" y="411.40" text-anchor="middle" fill="#222" font-size="6.6" font-weight="normal" stroke="#222" stroke-width="0.2" >7 (1)</text>
<text x="367.74" y="411.40" text-anchor="middle" fill="#222" font-size="6.6" font-weight="normal" stroke="#222" stroke-width="0.2" >5 (2)</text>
<text x="393.31" y="411.40" text-anchor="middle" fill="#222" font-size="6.6" font-weight="normal" stroke="#222" stroke-width="0.2" >4 (2)</text>
<text x="418.88" y="411.40" text-anchor="middle" fill="#222" font-size="6.6" font-weight="normal" stroke="#222" stroke-width="0.2" >3 (2)</text>
<text x="444.45" y="411.40" text-anchor="middle" fill="#222" font-size="6.6" font-weight="normal" stroke="#222" stroke-width="0.2" >2 (2)</text>
<text x="470.02" y="411.40" text-anchor="middle" fill="#222" font-size="6.6" font-weight="normal" stroke="#222" stroke-width="0.2" >2 (2)</text>
<text x="495.59" y="411.40" text-anchor="middle" fill="#222" font-size="6.6" font-weight="normal" stroke="#222" stroke-width="0.2" >1 (3)</text>
<rect x="0.5" y="0.5" width="519" height="418" fill="none" stroke="#4a4a4a" stroke-width="1"/>
</svg>
</body></html>
